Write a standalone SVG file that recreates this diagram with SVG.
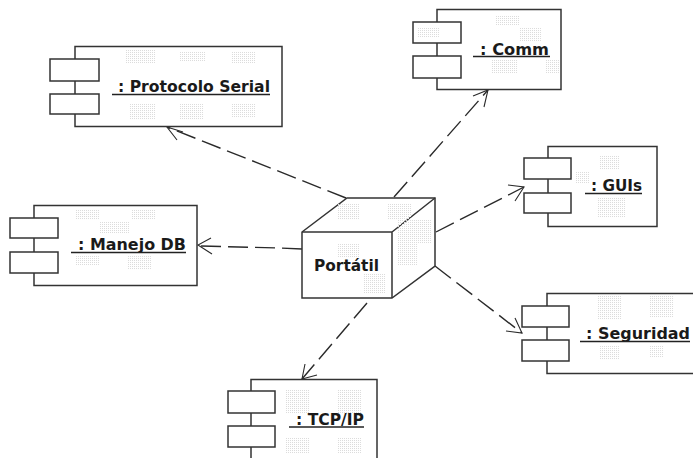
<svg xmlns="http://www.w3.org/2000/svg" width="693" height="458" viewBox="0 0 693 458">
<style>
.b{fill:#fff;stroke:#333;stroke-width:1.5}
.l{fill:none;stroke:#333;stroke-width:1.5}
.d{fill:url(#dots)}
.t,.n{font-family:"DejaVu Sans",sans-serif;font-weight:bold;font-size:15.500px;fill:#1a1a1a}
.u{stroke:#222;stroke-width:1.5;fill:none}
.c{fill:none;stroke:#2a2a2a;stroke-width:1.4;stroke-dasharray:20 7}
.h{fill:none;stroke:#2a2a2a;stroke-width:1.1}
</style>
<defs>
<pattern id="dots" width="2" height="2" patternUnits="userSpaceOnUse"><rect width="1" height="1" fill="#dcdcdc"/></pattern>
</defs>
<rect width="693" height="458" fill="#fff"/>
<g id="connectors">
<path class="c" d="M346 198L167 127"/><path class="h" d="M177 140L167 127L183 132"/>
<path class="c" d="M394 197L488 90"/><path class="h" d="M473 96L488 90L484 107"/>
<path class="c" d="M436 232L524 187"/><path class="h" d="M508 185L524 187L515 201"/>
<path class="c" d="M435 266L522 333"/><path class="h" d="M506 331L522 333L515 318"/>
<path class="c" d="M367 303L302 379"/><path class="h" d="M305 364L302 379L317 375"/>
<path class="c" d="M302 249L280 248L198 246"/><path class="h" d="M211 238L198 245L212 254"/>
</g>
<g id="protocolo">
<rect class="b" x="75" y="46.500" width="207" height="80"/>
<rect class="d" x="125" y="50" width="30" height="14"/><rect class="d" x="180" y="52" width="25" height="10"/><rect class="d" x="232" y="52" width="24" height="12"/><rect class="d" x="130" y="104" width="26" height="16"/><rect class="d" x="180" y="104" width="24" height="16"/><rect class="d" x="232" y="104" width="24" height="14"/>
<rect class="b" x="50" y="59" width="49" height="22"/><rect class="b" x="50" y="94" width="49" height="20"/>
<text class="t" x="118" y="92" textLength="152" lengthAdjust="spacingAndGlyphs">: Protocolo Serial</text>
<path class="u" d="M112 94.500H270"/>
</g>
<g id="comm">
<rect class="b" x="437" y="9.500" width="124" height="80"/>
<rect class="d" x="495" y="16" width="24" height="10"/><rect class="d" x="520" y="28" width="22" height="14"/><rect class="d" x="492" y="60" width="26" height="14"/><rect class="d" x="545" y="60" width="14" height="14"/>
<rect class="b" x="413" y="22" width="48" height="21"/><rect class="d" x="418" y="28" width="22" height="10"/><rect class="b" x="413" y="56" width="48" height="22"/>
<text class="t" x="480" y="54.500" textLength="69" lengthAdjust="spacingAndGlyphs">: Comm</text>
<path class="u" d="M473 56.500H550"/>
</g>
<g id="guis">
<rect class="b" x="548" y="146.500" width="109" height="80"/>
<rect class="d" x="600" y="155" width="20" height="14"/><rect class="d" x="598" y="198" width="28" height="20"/><rect class="d" x="575" y="172" width="14" height="12"/>
<rect class="b" x="524" y="158" width="47" height="21"/><rect class="b" x="524" y="193" width="47" height="20"/>
<text class="t" x="591" y="191" textLength="51" lengthAdjust="spacingAndGlyphs">: GUIs</text>
<path class="u" d="M585 193.500H642"/>
</g>
<g id="manejo">
<rect class="b" x="34" y="205.500" width="163" height="80"/>
<rect class="d" x="76" y="209" width="24" height="10"/><rect class="d" x="132" y="209" width="24" height="10"/><rect class="d" x="100" y="222" width="30" height="12"/><rect class="d" x="75" y="256" width="24" height="10"/><rect class="d" x="128" y="256" width="24" height="14"/>
<rect class="b" x="10" y="218" width="48" height="20"/><rect class="b" x="10" y="252" width="48" height="21"/>
<text class="t" x="78" y="250" textLength="108" lengthAdjust="spacingAndGlyphs">: Manejo DB</text>
<path class="u" d="M71 252.500H186"/>
</g>
<g id="seguridad">
<rect class="b" x="547" y="293.500" width="147" height="80"/>
<rect class="d" x="598" y="296" width="24" height="24"/><rect class="d" x="650" y="296" width="24" height="22"/><rect class="d" x="600" y="345" width="20" height="14"/><rect class="d" x="650" y="345" width="14" height="12"/>
<rect class="b" x="522" y="306" width="47" height="21"/><rect class="b" x="522" y="340" width="47" height="21"/>
<text class="t" x="586" y="339" textLength="104" lengthAdjust="spacingAndGlyphs">: Seguridad</text>
<path class="u" d="M580 341.500H690"/>
</g>
<g id="tcpip">
<rect class="b" x="251" y="379.500" width="126" height="85"/>
<rect class="d" x="285" y="390" width="24" height="24"/><rect class="d" x="337" y="390" width="24" height="24"/><rect class="d" x="285" y="438" width="24" height="16"/><rect class="d" x="337" y="438" width="24" height="16"/>
<rect class="b" x="228" y="391" width="47" height="22"/><rect class="b" x="228" y="426" width="47" height="21"/>
<text class="t" x="296" y="424.500" textLength="68" lengthAdjust="spacingAndGlyphs">: TCP/IP</text>
<path class="u" d="M289 427H364"/>
</g>
<g id="portatil">
<path class="b" d="M302 232L347 198H435V266L392 298H302Z"/>
<path class="l" d="M302 232H392V298M392 232L435 198"/>
<rect class="d" x="338" y="204" width="22" height="16"/><rect class="d" x="387" y="204" width="24" height="16"/><rect class="d" x="397" y="220" width="34" height="24"/><rect class="d" x="397" y="244" width="20" height="22"/><rect class="d" x="337" y="243" width="22" height="14"/><rect class="d" x="364" y="274" width="22" height="20"/>
<text class="n" x="314" y="270.500" textLength="65" lengthAdjust="spacingAndGlyphs">Portátil</text>
</g>
</svg>
